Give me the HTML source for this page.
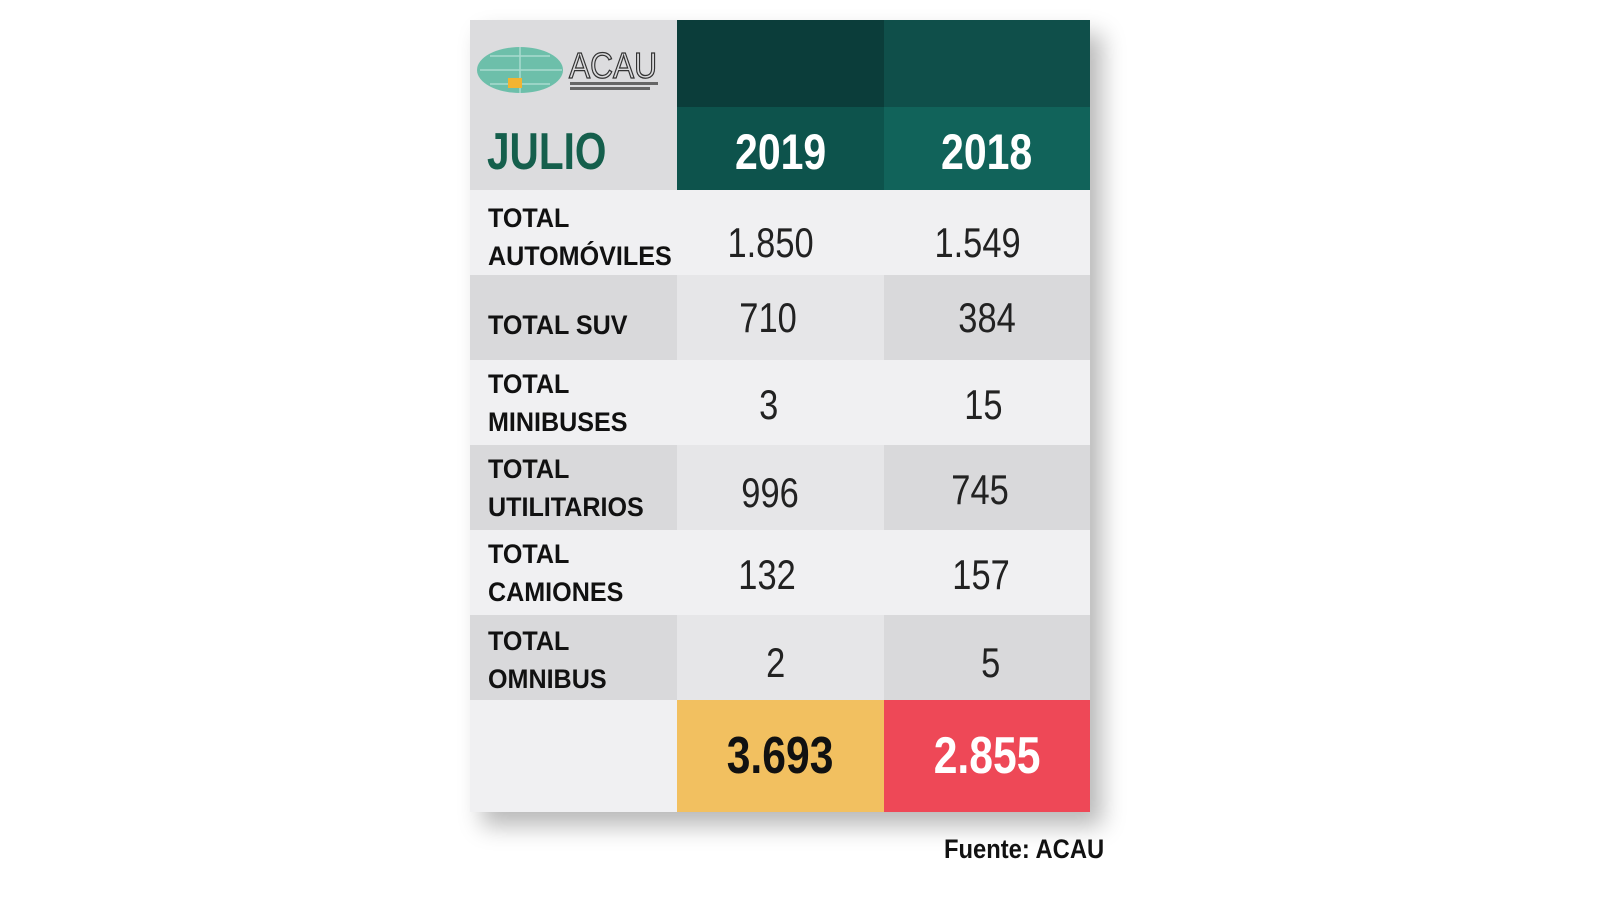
<!DOCTYPE html>
<html><head><meta charset="utf-8"><style>
body{margin:0;width:1600px;height:900px;background:#fff;position:relative;overflow:hidden;font-family:"Liberation Sans",sans-serif;}
.c{position:absolute;box-sizing:border-box;}
.lab{font-weight:bold;font-size:27px;line-height:38px;color:#111;padding-left:18px;display:flex;flex-direction:column;justify-content:center;}
.lab span{display:block;transform:scaleX(0.93);transform-origin:left center;white-space:nowrap;}
.num{font-size:42px;color:#222;display:flex;align-items:center;justify-content:center;}
.num span{display:inline-block;transform:scaleX(0.82);}
.shadow{position:absolute;left:470px;top:20px;width:620px;height:792px;box-shadow:12px 14px 22px rgba(0,0,0,0.28);}
</style></head><body>
<div class="shadow"></div>
<div class="c" style="left:470px;top:20px;width:207px;height:170px;background:#dcdcde"></div>
<div class="c" style="left:677px;top:20px;width:207px;height:87px;background:#0b3d3a"></div>
<div class="c" style="left:884px;top:20px;width:206px;height:87px;background:#0f4f4a"></div>
<div class="c" style="left:677px;top:107px;width:207px;height:83px;background:#0d534c"></div>
<div class="c" style="left:884px;top:107px;width:206px;height:83px;background:#11635a"></div>
<svg class="c" style="left:476px;top:44px" width="190" height="54">
<ellipse cx="44" cy="26" rx="43" ry="23" fill="#6dbfaa"/>
<path d="M4 26H86M44 3V49M14 12H74M14 40H74" stroke="#a9dccf" stroke-width="1.5" fill="none"/>
<rect x="32" y="34" width="14" height="10" fill="#f2b431"/>
<text x="93" y="34" font-family="Liberation Sans,sans-serif" font-size="36" textLength="88" lengthAdjust="spacingAndGlyphs" fill="none" stroke="#333" stroke-width="1.3">ACAU</text>
<rect x="94" y="38" width="88" height="3" fill="#666"/><rect x="94" y="43" width="80" height="3" fill="#666"/>
</svg>
<div class="c" style="left:487px;top:122px;font-size:52px;font-weight:bold;color:#155f4c;line-height:60px;transform:scaleX(0.78);transform-origin:left center">JULIO</div>
<div class="c num" style="left:677px;top:107px;width:207px;height:90px;color:#fff;font-weight:bold;font-size:50px"><span>2019</span></div>
<div class="c num" style="left:884px;top:107px;width:206px;height:90px;color:#fff;font-weight:bold;font-size:50px"><span>2018</span></div>

<div class="c" style="left:470px;top:190px;width:620px;height:85px;background:#f0f0f2"></div>
<div class="c lab" style="left:470px;top:190px;width:207px;height:85px;padding-top:8px"><span>TOTAL</span><span>AUTOMÓVILES</span></div>
<div class="c num" style="left:667px;top:200px;width:207px;height:85px"><span>1.850</span></div>
<div class="c num" style="left:874px;top:200px;width:207px;height:85px"><span>1.549</span></div>

<div class="c" style="left:470px;top:275px;width:207px;height:85px;background:#d9d9db"></div>
<div class="c" style="left:677px;top:275px;width:207px;height:85px;background:#e6e6e8"></div>
<div class="c" style="left:884px;top:275px;width:206px;height:85px;background:#d9d9db"></div>
<div class="c lab" style="left:470px;top:282px;width:207px;height:85px"><span>TOTAL SUV</span></div>
<div class="c num" style="left:665px;top:275px;width:207px;height:85px"><span>710</span></div>
<div class="c num" style="left:884px;top:275px;width:207px;height:85px"><span>384</span></div>

<div class="c" style="left:470px;top:360px;width:620px;height:85px;background:#f0f0f2"></div>
<div class="c lab" style="left:470px;top:360px;width:207px;height:85px"><span>TOTAL</span><span>MINIBUSES</span></div>
<div class="c num" style="left:665px;top:362px;width:207px;height:85px"><span>3</span></div>
<div class="c num" style="left:880px;top:362px;width:207px;height:85px"><span>15</span></div>

<div class="c" style="left:470px;top:445px;width:207px;height:85px;background:#d9d9db"></div>
<div class="c" style="left:677px;top:445px;width:207px;height:85px;background:#e6e6e8"></div>
<div class="c" style="left:884px;top:445px;width:206px;height:85px;background:#d9d9db"></div>
<div class="c lab" style="left:470px;top:445px;width:207px;height:85px"><span>TOTAL</span><span>UTILITARIOS</span></div>
<div class="c num" style="left:667px;top:450px;width:207px;height:85px"><span>996</span></div>
<div class="c num" style="left:877px;top:447px;width:207px;height:85px"><span>745</span></div>

<div class="c" style="left:470px;top:530px;width:620px;height:85px;background:#f0f0f2"></div>
<div class="c lab" style="left:470px;top:530px;width:207px;height:85px"><span>TOTAL</span><span>CAMIONES</span></div>
<div class="c num" style="left:664px;top:532px;width:207px;height:85px"><span>132</span></div>
<div class="c num" style="left:878px;top:532px;width:207px;height:85px"><span>157</span></div>

<div class="c" style="left:470px;top:615px;width:207px;height:85px;background:#d9d9db"></div>
<div class="c" style="left:677px;top:615px;width:207px;height:85px;background:#e6e6e8"></div>
<div class="c" style="left:884px;top:615px;width:206px;height:85px;background:#d9d9db"></div>
<div class="c lab" style="left:470px;top:617px;width:207px;height:85px"><span>TOTAL</span><span>OMNIBUS</span></div>
<div class="c num" style="left:672px;top:620px;width:207px;height:85px"><span>2</span></div>
<div class="c num" style="left:887px;top:620px;width:207px;height:85px"><span>5</span></div>

<div class="c" style="left:470px;top:700px;width:207px;height:112px;background:#f0f0f2"></div>
<div class="c num" style="left:677px;top:700px;width:207px;height:112px;background:#f2c060;font-weight:bold;font-size:52px;color:#111"><span>3.693</span></div>
<div class="c num" style="left:884px;top:700px;width:206px;height:112px;background:#ee4857;font-weight:bold;font-size:52px;color:#fff"><span>2.855</span></div>

<div class="c" style="left:944px;top:834px;font-size:27px;font-weight:bold;color:#111;transform:scaleX(0.88);transform-origin:left center">Fuente: ACAU</div>
</body></html>
